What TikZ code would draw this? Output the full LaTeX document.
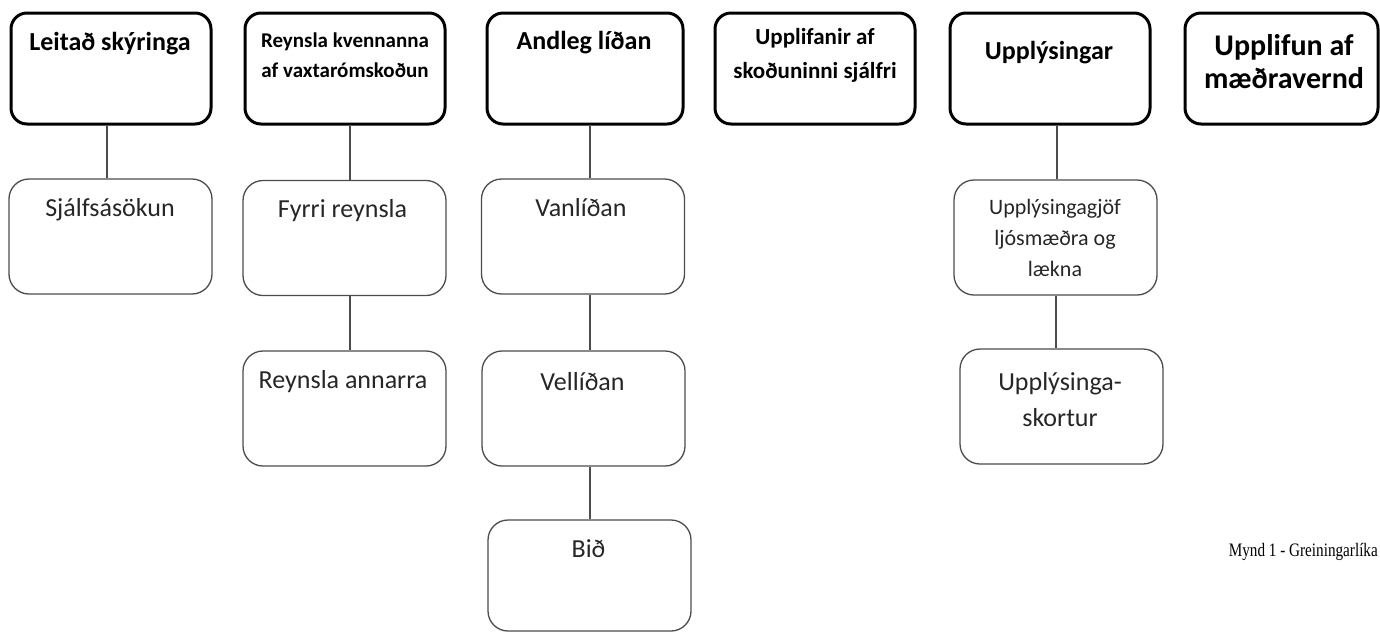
\documentclass[tikz,border=0pt]{standalone}
\usepackage{fontspec}
\setmainfont{Carlito}
\newfontfamily\capfont{Liberation Serif}

\tikzset{
  headbox/.style={draw=black, line width=3pt, rounded corners=16pt,
    minimum width=200pt, minimum height=111pt, inner sep=0pt},
  subbox/.style={draw=black!70, line width=1.3pt, rounded corners=20pt,
    minimum width=203pt, minimum height=115pt, inner sep=0pt},
  headtext/.style={font=\bfseries\fontsize{26}{30}\selectfont, align=center, inner sep=0pt},
  subtext/.style={font=\fontsize{26}{31}\selectfont, align=center, text=black!85, inner sep=0pt},
  link/.style={draw=black!70, line width=1.3pt}
}

\begin{document}
\begin{tikzpicture}[x=1pt,y=-1pt]
	\useasboundingbox (0,0) rectangle (1380,633);

	% top row
	\node[headbox] (t1) at (111,68.5) {};
	\node[headbox] (t2) at (345,68.5) {};
	\node[headbox, minimum width=196pt] (t3) at (585,68.5) {};
	\node[headbox] (t4) at (815,68.5) {};
	\node[headbox] (t5) at (1050,68.5) {};
	\node[headbox, minimum width=193pt] (t6) at (1281.5,68.5) {};

	\node[headtext] (h1) at (110,44) {Leitað skýringa};
	\node[headtext, font=\bfseries\fontsize{21}{30}\selectfont] (h2) at (345,55) {Reynsla kvennanna\\af vaxtarómskoðun};
	\node[headtext] (h3) at (584,43) {Andleg líðan};
	\node[headtext, font=\bfseries\fontsize{23}{34}\selectfont] (h4) at (815,55) {Upplifanir af\\skoðuninni sjálfri};
	\node[headtext] (h5) at (1049,53) {Upplýsingar};
	\node[headtext, font=\bfseries\fontsize{30}{33}\selectfont] (h6) at (1284,61.5) {Upplifun af\\mæðravernd};

	% second level
	\node[subbox] (s1) at (110.5,236.5) {};
	\node[subbox] (s2) at (344.5,238) {};
	\node[subbox] (s3) at (344.5,408.5) {};
	\node[subbox] (s4) at (583,236.5) {};
	\node[subbox] (s5) at (583.5,408.5) {};
	\node[subbox, minimum height=111pt] (s6) at (589.5,575.5) {};
	\node[subbox] (s7) at (1055.5,237.5) {};
	\node[subbox] (s8) at (1061.5,406.5) {};

	\node[subtext] (l1) at (110,210) {Sjálfsásökun};
	\node[subtext] (l2) at (342.5,211) {Fyrri reynsla};
	\node[subtext] (l3) at (343,382) {Reynsla annarra};
	\node[subtext] (l4) at (581,208) {Vanlíðan};
	\node[subtext] (l5) at (582.5,382) {Vellíðan};
	\node[subtext] (l6) at (588.5,549) {Bið};
	\node[subtext, font=\fontsize{22}{31}\selectfont] (l7) at (1055,238) {Upplýsingagjöf\\ljósmæðra og\\lækna};
	\node[subtext, font=\fontsize{26}{36}\selectfont] (l8) at (1060,400) {Upplýsinga-\\skortur};

	% connectors
	\draw[link] ([xshift=-4]t1.south) -- ([xshift=-3.5]s1.north);
	\draw[link] ([xshift=5]t2.south) -- ([xshift=5.5]s2.north);
	\draw[link] ([xshift=5.5]s2.south) -- ([xshift=5.5]s3.north);
	\draw[link] ([xshift=5]t3.south) -- ([xshift=7]s4.north);
	\draw[link] ([xshift=7]s4.south) -- ([xshift=6.5]s5.north);
	\draw[link] ([xshift=6.5]s5.south) -- ([xshift=0.5]s6.north);
	\draw[link] ([xshift=7]t5.south) -- ([xshift=1.5]s7.north);
	\draw[link] ([xshift=0.5]s7.south) -- ([xshift=-5.5]s8.north);

	\node[font=\capfont\fontsize{19}{22}\selectfont, anchor=east, inner sep=0pt] (cap) at (1378,552) {\scalebox{0.8}[1]{Mynd 1 - Greiningarlíka}};
\end{tikzpicture}
\end{document}
